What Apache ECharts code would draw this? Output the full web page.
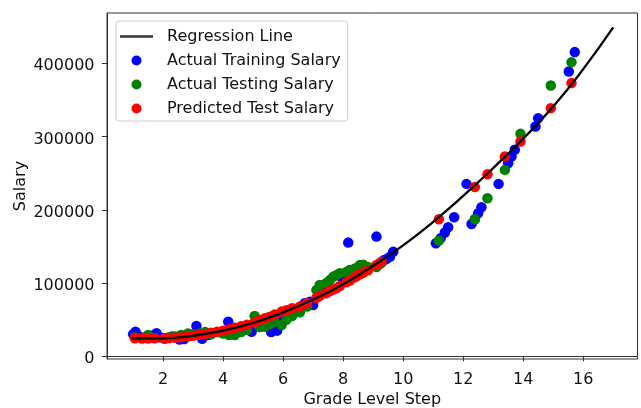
<!DOCTYPE html>
<html>
<head>
<meta charset="utf-8">
<script src="https://cdn.jsdelivr.net/npm/echarts@6/dist/echarts.min.js"></script>
<style>html,body{margin:0;padding:0;background:#fff}#c{width:641px;height:408px}</style>
</head>
<body>
<div id="c"></div>
<script>
const xTicks = [2, 4, 6, 8, 10, 12, 14, 16];
const yTicks = [0, 100000, 200000, 300000, 400000];

const lineX = [0.95, 2, 3, 4, 5, 6, 7, 8, 9, 10, 11, 12, 13, 14, 15, 16, 17];
const lineY = [24600, 24400, 28000, 35000, 45500, 60000, 77500, 98500, 123500, 151500, 183500, 219000, 257000, 297000, 341000, 392000, 449000];

const trainX = [1.0,1.08,1.2,1.4,1.6,1.78,1.9,2.1,2.3,2.55,2.7,3.11,3.3,3.5,3.9,4.17,4.4,4.7,4.95,5.3,5.6,5.8,6.0,6.2,6.5,6.72,6.89,7.0,7.3,7.5,7.83,8.0,8.17,8.3,8.6,9.11,9.35,9.45,9.56,9.67,11.09,11.25,11.39,11.5,11.7,12.11,12.28,12.39,12.5,12.61,13.18,13.5,13.61,13.72,14.41,14.5,15.52,15.72];
const trainY = [30000,33600,27000,26000,28000,31400,26000,25000,27000,23000,23500,41400,24000,29000,33000,47300,38000,40000,33600,46000,33000,35000,52000,57000,63000,72400,74600,70000,92000,95000,111000,103000,155200,112000,118000,163400,131000,133000,136000,142900,154400,161200,168900,176200,189900,235400,180700,187200,195400,203600,235400,263600,272700,282000,313700,325100,388800,415300];

const testX = [1.06,1.3,1.5,1.72,2.05,2.2,2.4,2.6,2.83,3.0,3.2,3.4,3.6,3.8,4.0,4.2,4.39,4.6,4.8,5.05,5.22,5.39,5.55,5.72,5.95,6.11,6.3,6.56,6.8,7.11,7.17,7.22,7.44,7.56,7.67,7.78,7.89,8.11,8.22,8.39,8.45,8.56,8.67,8.83,9.11,9.22,9.28,11.19,12.39,12.81,13.39,13.91,14.92,15.61];
const testY = [26000,25000,29000,25000,24000,26000,27000,29000,31000,30000,31000,33000,30000,33000,31000,29000,29000,33000,36000,55000,40000,40400,44000,47300,42800,50000,55000,60000,68000,90600,88000,97400,100000,104200,108700,111000,113400,115000,117900,120000,120200,124700,125000,122000,122000,126000,128000,157900,187200,215800,254500,303700,369700,401600];
const predY = [24600,24400,24400,24500,24500,24800,25300,26000,27000,28000,29300,30500,32000,33500,35000,37000,39000,41000,43000,46500,49600,52000,54000,57000,61000,63000,65500,68000,72500,80000,81400,82500,86000,89000,91000,93000,96000,101000,103500,108000,109500,112000,114000,117500,124700,127000,129200,187200,231000,248600,272700,293200,338800,373000];

const names = ['Regression Line', 'Actual Training Salary', 'Actual Testing Salary', 'Predicted Test Salary'];
const zip = (a, b) => a.map((v, i) => [v, b[i]]);
const FONT = 'DejaVu Sans';
const FS = 16;

const chart = echarts.init(document.getElementById('c'), null, {renderer: 'canvas'});
chart.setOption({
  animation: false,
  backgroundColor: '#fff',
  grid: {left: 107, right: 3.5, top: 13, bottom: 49, outerBoundsMode: 'none', containLabel: false, show: true, borderColor: '#333', borderWidth: 1, backgroundColor: 'transparent'},
  legend: {
    data: [
      {name: names[0], icon: 'path://M0,0L33,0L33,2.6L0,2.6Z', itemStyle: {color: '#333'}},
      {name: names[1], icon: 'circle'},
      {name: names[2], icon: 'circle'},
      {name: names[3], icon: 'circle'}
    ],
    orient: 'vertical', left: 116, top: 21,
    itemWidth: 33, itemHeight: 10, itemGap: 8,
    padding: [7.5, 7, 4.5, 4],
    backgroundColor: 'rgba(255,255,255,0.8)', borderColor: '#ccc', borderWidth: 1, borderRadius: 3,
    textStyle: {fontFamily: FONT, fontSize: FS, color: '#111', lineHeight: 16, padding: [0, 0, 0, 9]}
  },
  xAxis: {
    type: 'value', min: 0.13, max: 17.81,
    name: 'Grade Level Step', nameLocation: 'middle', nameGap: 33, nameMoveOverlap: false,
    nameTextStyle: {fontFamily: FONT, fontSize: FS, color: '#111', lineHeight: 16},
    axisLine: {show: true, lineStyle: {color: '#333', width: 1}},
    axisTick: {show: true, length: 5, lineStyle: {color: '#333'}, customValues: xTicks},
    axisLabel: {fontFamily: FONT, fontSize: FS, color: '#111', margin: 12.5, customValues: xTicks, formatter: v => String(v)},
    splitLine: {show: false}
  },
  yAxis: {
    type: 'value', min: -3700, max: 468700,
    name: 'Salary', nameLocation: 'middle', nameGap: 78, nameMoveOverlap: false,
    nameTextStyle: {fontFamily: FONT, fontSize: FS, color: '#111'},
    axisLine: {show: true, lineStyle: {color: '#333', width: 1}},
    axisTick: {show: true, length: 5, lineStyle: {color: '#333'}, customValues: yTicks},
    axisLabel: {fontFamily: FONT, fontSize: FS, color: '#111', margin: 12.5, verticalAlign: 'top', lineHeight: 6, customValues: yTicks, formatter: v => String(v)},
    splitLine: {show: false}
  },
  series: [
    {name: names[1], type: 'scatter', data: zip(trainX, trainY), symbolSize: 10.5, itemStyle: {color: '#0000ff', opacity: 1}, z: 2},
    {name: names[2], type: 'scatter', data: zip(testX, testY), symbolSize: 10.5, itemStyle: {color: '#008000', opacity: 1}, z: 3},
    {name: names[3], type: 'scatter', data: zip(testX, predY), symbolSize: 10.5, itemStyle: {color: '#ff0000', opacity: 1}, z: 4},
    {name: names[0], type: 'line', data: zip(lineX, lineY), smooth: true, showSymbol: false, symbol: 'none', lineStyle: {color: '#000', width: 2.3}, itemStyle: {color: '#333'}, z: 5}
  ]
});
</script>
</body>
</html>
